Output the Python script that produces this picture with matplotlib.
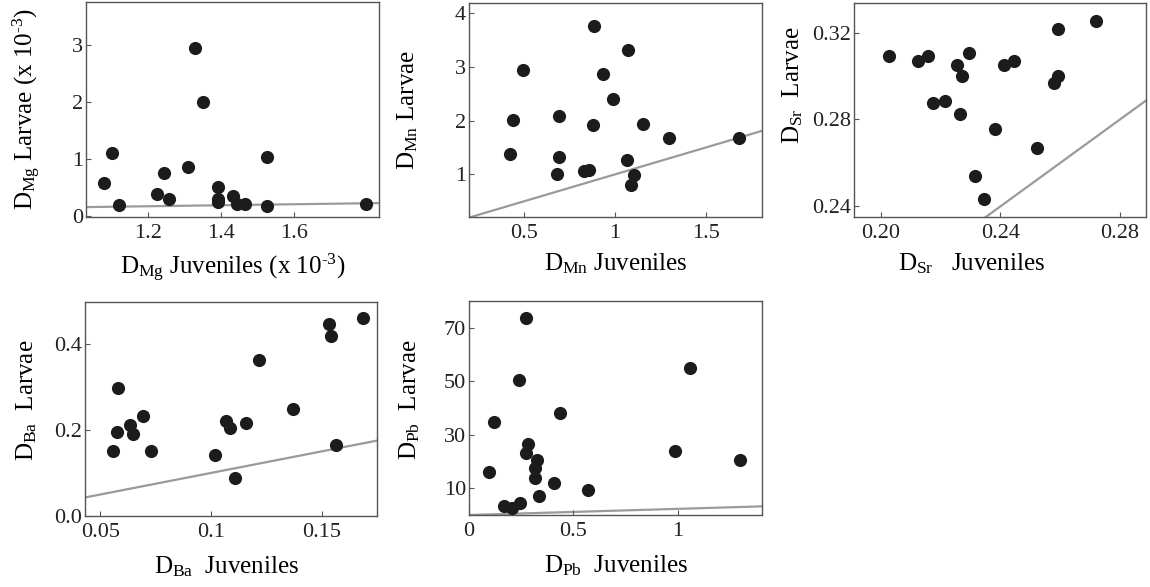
import matplotlib
matplotlib.use("Agg")
import matplotlib.pyplot as plt
import numpy as np

plt.rcParams['font.family'] = ['Liberation Serif', 'DejaVu Serif']
plt.rcParams['mathtext.fontset'] = 'custom'
plt.rcParams['mathtext.rm'] = 'Liberation Serif'
plt.rcParams['mathtext.it'] = 'Liberation Serif:italic'
plt.rcParams['mathtext.bf'] = 'Liberation Serif:bold'

# ---- data ----
mg_juv = [1.078, 1.101, 1.120, 1.224, 1.244, 1.257, 1.309, 1.329, 1.349, 1.391, 1.391, 1.391,
          1.432, 1.444, 1.465, 1.525, 1.525, 1.797]
mg_lar = [0.575, 1.11, 0.19, 0.39, 0.75, 0.30, 0.86, 2.95, 2.01, 0.50, 0.30, 0.24,
          0.35, 0.21, 0.20, 1.04, 0.18, 0.21]
mg_line = [0.154, 0.088]  # intercept at x-min, slope

mn_juv = [0.425, 0.441, 0.498, 0.682, 0.691, 0.694, 0.832, 0.856, 0.882, 0.887, 0.933, 0.988,
          1.074, 1.065, 1.104, 1.087, 1.153, 1.300, 1.682]
mn_lar = [1.38, 2.01, 2.94, 1.01, 1.32, 2.08, 1.06, 1.08, 1.91, 3.75, 2.86, 2.39,
          3.30, 1.27, 0.98, 0.81, 1.93, 1.67, 1.68]

sr_juv = [0.2026, 0.2125, 0.2156, 0.2174, 0.2213, 0.2255, 0.2273, 0.2264, 0.2294, 0.2315,
          0.2345, 0.2383, 0.2412, 0.2444, 0.2521, 0.2580, 0.2591, 0.2591, 0.2721]
sr_lar = [0.3090, 0.3070, 0.3090, 0.2874, 0.2884, 0.3050, 0.3000, 0.2826, 0.3108, 0.2541,
          0.2434, 0.2756, 0.3050, 0.3070, 0.2668, 0.2970, 0.3001, 0.3215, 0.3255]

ba_juv = [0.0558, 0.0573, 0.0578, 0.0632, 0.0647, 0.0694, 0.0728, 0.1018, 0.1068, 0.1086,
          0.1110, 0.1158, 0.1219, 0.1371, 0.1534, 0.1543, 0.1566, 0.1686]
ba_lar = [0.152, 0.195, 0.298, 0.212, 0.191, 0.233, 0.152, 0.142, 0.220, 0.205,
          0.088, 0.216, 0.362, 0.249, 0.445, 0.418, 0.166, 0.459]

pb_juv = [0.096, 0.122, 0.170, 0.207, 0.244, 0.239, 0.273, 0.273, 0.283, 0.315, 0.326, 0.318,
          0.334, 0.408, 0.437, 0.568, 0.989, 1.059, 1.297]
pb_lar = [15.9, 34.9, 3.5, 2.5, 4.4, 50.6, 73.7, 23.1, 26.4, 17.5, 20.6, 13.7,
          7.2, 11.9, 38.3, 9.4, 24.0, 54.9, 20.7]
pb_line = [0.0, 2.3]

W, H = 1150, 587
fig = plt.figure(figsize=(W / 100, H / 100), dpi=100)

def add_ax(l, r, t, b):
    return fig.add_axes([l / W, 1 - b / H, (r - l) / W, (b - t) / H])

LINE_C = '#9a9a9a'
DOT_C = '#1c1c1c'
TICK_FS = 16
LAB_FS = 18

def style(ax):
    for s in ax.spines.values():
        s.set_color('#555555')
        s.set_linewidth(1.0)
    ax.tick_params(direction='in', length=3.5, width=0.8, color='#555555',
                   labelsize=TICK_FS, labelcolor='#222222', top=False, right=False)
    ax.tick_params(axis='x', pad=5)
    ax.tick_params(axis='y', pad=2)

def panel(ax, x, y, xlim, ylim, line):
    ax.set_xlim(*xlim)
    ax.set_ylim(*ylim)
    xs = np.array(xlim)
    if line is None:
        ax.plot(xs, xs, color=LINE_C, lw=1.6, zorder=1)
    else:
        ax.plot(xs, line[0] + line[1] * (xs - xlim[0]), color=LINE_C, lw=1.6, zorder=1)
    ax.scatter(x, y, s=90, color=DOT_C, zorder=3, linewidths=0)
    style(ax)

SUP = '$^{\\mathregular{\u20103}}$'

# Panel 1: Mg
ax1 = add_ax(86, 379, 2, 217)
panel(ax1, mg_juv, mg_lar, (1.029, 1.833), (-0.02, 3.76), mg_line)
ax1.set_xticks([1.2, 1.4, 1.6])
ax1.set_xticklabels(['1.2', '1.4', '1.6'])
ax1.set_yticks([0, 1, 2, 3])
ax1.set_xlabel(r'$\mathregular{D_{Mg}}$ Juveniles (x 10' + SUP + ')', fontsize=LAB_FS, labelpad=6)
ax1.set_ylabel(r'$\mathregular{D_{Mg}}$ Larvae (x 10' + SUP + ')', fontsize=LAB_FS, labelpad=21)

# Panel 2: Mn
ax2 = add_ax(469, 762, 3, 217)
panel(ax2, mn_juv, mn_lar, (0.199, 1.808), (0.21, 4.18), None)
ax2.set_xticks([0.5, 1, 1.5])
ax2.set_xticklabels(['0.5', '1', '1.5'])
ax2.set_yticks([1, 2, 3, 4])
ax2.set_xlabel(r'$\mathregular{D_{Mn}}$ Juveniles', fontsize=LAB_FS, labelpad=6)
ax2.set_ylabel(r'$\mathregular{D_{Mn}}$ Larvae', fontsize=LAB_FS, labelpad=25)

# Panel 3: Sr
ax3 = add_ax(854, 1146, 3, 217)
panel(ax3, sr_juv, sr_lar, (0.1910, 0.2887), (0.2351, 0.3336), None)
ax3.set_xticks([0.20, 0.24, 0.28])
ax3.set_xticklabels(['0.20', '0.24', '0.28'])
ax3.set_yticks([0.24, 0.28, 0.32])
ax3.set_yticklabels(['0.24', '0.28', '0.32'])
ax3.set_xlabel(r'$\mathregular{D_{Sr}}$   Juveniles', fontsize=LAB_FS, labelpad=6, x=0.404)
ax3.set_ylabel(r'$\mathregular{D_{Sr}}$  Larvae', fontsize=LAB_FS, labelpad=5, y=0.617)

# Panel 4: Ba
ax4 = add_ax(85, 377, 302, 516)
panel(ax4, ba_juv, ba_lar, (0.0430, 0.1751), (0.0, 0.497), None)
ax4.set_xticks([0.05, 0.1, 0.15])
ax4.set_xticklabels(['0.05', '0.1', '0.15'])
ax4.set_yticks([0.0, 0.2, 0.4])
ax4.set_yticklabels(['0.0', '0.2', '0.4'])
ax4.set_xlabel(r'$\mathregular{D_{Ba}}$  Juveniles', fontsize=LAB_FS, labelpad=9, x=0.485)
ax4.set_ylabel(r'$\mathregular{D_{Ba}}$  Larvae', fontsize=LAB_FS, labelpad=11, y=0.542)

# Panel 5: Pb
ax5 = add_ax(469, 762, 301, 515)
panel(ax5, pb_juv, pb_lar, (0.0, 1.404), (0.0, 80.0), pb_line)
ax5.set_xticks([0, 0.5, 1])
ax5.set_xticklabels(['0', '0.5', '1'])
ax5.set_yticks([10, 30, 50, 70])
ax5.set_xlabel(r'$\mathregular{D_{Pb}}$  Juveniles', fontsize=LAB_FS, labelpad=9)
ax5.set_ylabel(r'$\mathregular{D_{Pb}}$  Larvae', fontsize=LAB_FS, labelpad=16, y=0.537)

fig.savefig('out.png', dpi=100)
